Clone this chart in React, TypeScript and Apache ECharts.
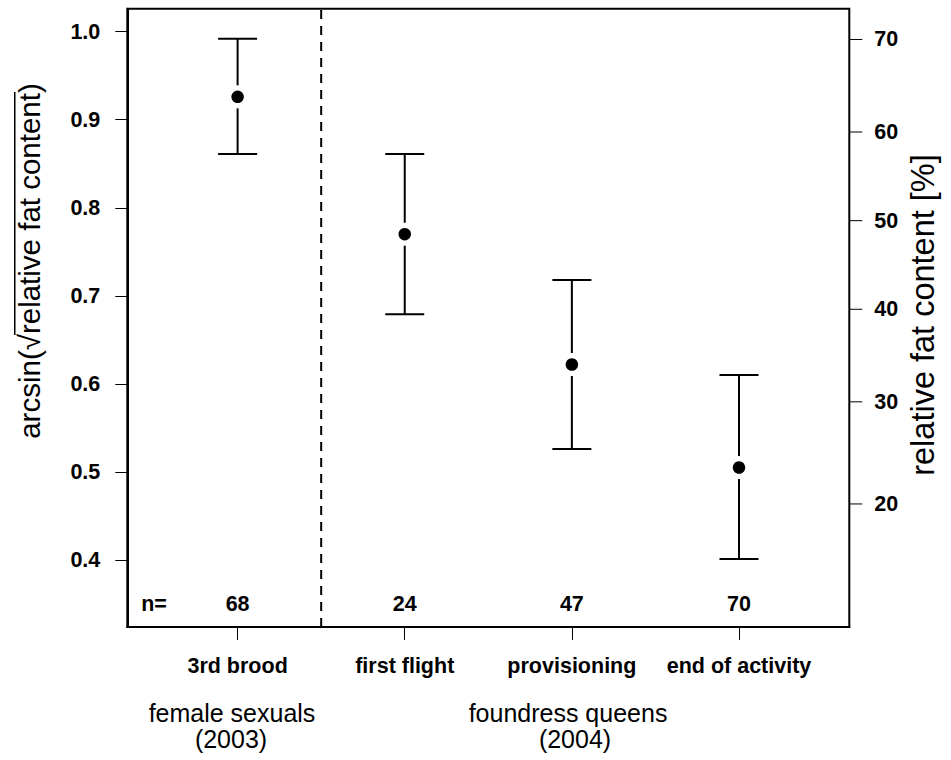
import React, { useEffect, useRef } from "react";
import * as echarts from "echarts";

// ---- data ----
const STAGES = ["3rd brood", "first flight", "provisioning", "end of activity"];
const STAGE_X = [1, 2, 3, 4];
const MEANS = [0.926, 0.77, 0.622, 0.505];
const UPPER = [0.992, 0.861, 0.718, 0.61];
const LOWER = [0.861, 0.679, 0.526, 0.401];
const N_COUNTS = ["68", "24", "47", "70"];
const LEFT_TICKS = [0.4, 0.5, 0.6, 0.7, 0.8, 0.9, 1.0];
const RIGHT_TICKS_PCT = [20, 30, 40, 50, 60, 70];
const Y_MIN = 0.324;
const Y_MAX = 1.026;
const X_MIN = 0.34;
const X_MAX = 4.66;
const DIVIDER_X = 1.5;
const N_ROW_Y = 0.35;
const N_PREFIX_X = 0.5;

const FONT = '"Liberation Sans", Arial, Helvetica, sans-serif';
const LEFT_TITLE_SIZE = 29.5;
const RIGHT_TITLE_SIZE = 32.5;
const GROUP_SIZE = 25;
const BOLD_SIZE = 21.5;

const toArc = (pct: number) => Math.asin(Math.sqrt(pct / 100));

function measure(text: string, size: number, weight = "normal") {
  const c = document.createElement("canvas").getContext("2d");
  if (!c) return text.length * size * 0.5;
  c.font = `${weight} ${size}px ${FONT}`;
  return c.measureText(text).width;
}

export default function App() {
  const ref = useRef<HTMLDivElement>(null);

  useEffect(() => {
    if (!ref.current) return;
    const chart = echarts.init(ref.current, undefined, { renderer: "svg" });

    const errData = STAGE_X.map((x, i) => [x, MEANS[i], UPPER[i], LOWER[i]]);
    const meanData = STAGE_X.map((x, i) => [x, MEANS[i]]);
    const nData: any[] = [[N_PREFIX_X, N_ROW_Y, "n="]].concat(
      STAGE_X.map((x, i) => [x, N_ROW_Y, N_COUNTS[i]])
    );
    const rightTickData = RIGHT_TICKS_PCT.map((p) => [X_MAX, toArc(p), p]);

    // left title with overline for the square root
    const pre = "arcsin(\u221A";
    const inner = "relative fat content";
    const full = pre + inner + ")";
    const W = measure(full, LEFT_TITLE_SIZE);
    const wPre = measure(pre, LEFT_TITLE_SIZE);
    const wInner = measure(pre + inner, LEFT_TITLE_SIZE);
    const ovY = -LEFT_TITLE_SIZE * 0.5;

    const labelStyle = {
      color: "#000",
      fontFamily: FONT,
      fontWeight: "bold",
      fontSize: BOLD_SIZE,
    };

    const option: any = {
      animation: false,
      backgroundColor: "#fff",
      grid: {
        left: 127.3,
        right: 101.7,
        top: 8.8,
        bottom: 133.1,
        show: true,
        borderColor: "#000",
        borderWidth: 2,
        backgroundColor: "transparent",
        outerBoundsMode: "none",
      },
      xAxis: {
        type: "value",
        min: X_MIN,
        max: X_MAX,
        splitLine: { show: false },
        axisLine: { show: true, onZero: false, lineStyle: { color: "#000", width: 2 } },
        axisTick: {
          show: true,
          inside: false,
          customValues: STAGE_X,
          length: 13,
          lineStyle: { color: "#000", width: 1 },
        },
        axisLabel: {
          show: true,
          inside: false,
          customValues: STAGE_X,
          margin: 28,
          formatter: (v: number) => STAGES[STAGE_X.indexOf(v)] ?? "",
          ...labelStyle,
        },
      },
      yAxis: {
        type: "value",
        min: Y_MIN,
        max: Y_MAX,
        position: "left",
        splitLine: { show: false },
        axisLine: { show: true, onZero: false, lineStyle: { color: "#000", width: 2 } },
        axisTick: {
          show: true,
          inside: false,
          customValues: LEFT_TICKS,
          length: 12,
          lineStyle: { color: "#000", width: 1 },
        },
        axisLabel: {
          show: true,
          inside: false,
          customValues: LEFT_TICKS,
          margin: 27,
          formatter: (v: number) => v.toFixed(1),
          ...labelStyle,
        },
      },
      series: [
        {
          type: "line",
          data: [
            [DIVIDER_X, Y_MIN],
            [DIVIDER_X, Y_MAX],
          ],
          symbol: "none",
          lineStyle: { color: "#000", width: 2, type: [9, 7] },
          silent: true,
          z: 1,
        },
        {
          type: "custom",
          data: errData,
          encode: { x: 0, y: 1 },
          silent: true,
          renderItem: (_p: any, api: any) => {
            const x = api.value(0);
            const c = api.coord([x, api.value(1)]);
            const top = api.coord([x, api.value(2)]);
            const bot = api.coord([x, api.value(3)]);
            const cap = 19.5;
            const gap = 11.5;
            const style = { stroke: "#000", lineWidth: 2, fill: null };
            return {
              type: "group",
              children: [
                { type: "line", shape: { x1: c[0], y1: top[1], x2: c[0], y2: c[1] - gap }, style },
                { type: "line", shape: { x1: c[0], y1: c[1] + gap, x2: c[0], y2: bot[1] }, style },
                { type: "line", shape: { x1: c[0] - cap, y1: top[1], x2: c[0] + cap, y2: top[1] }, style },
                { type: "line", shape: { x1: c[0] - cap, y1: bot[1], x2: c[0] + cap, y2: bot[1] }, style },
              ],
            };
          },
          z: 2,
        },
        {
          type: "scatter",
          data: meanData,
          symbol: "circle",
          symbolSize: 12.5,
          itemStyle: { color: "#000", opacity: 1 },
          silent: true,
          z: 3,
        },
        {
          type: "custom",
          data: nData,
          encode: { x: 0, y: 1 },
          silent: true,
          renderItem: (_p: any, api: any) => {
            const c = api.coord([api.value(0), api.value(1)]);
            return {
              type: "text",
              x: c[0],
              y: c[1],
              style: {
                text: String(api.value(2)),
                fill: "#000",
                fontFamily: FONT,
                fontWeight: "bold",
                fontSize: BOLD_SIZE,
                textAlign: "center",
                textVerticalAlign: "middle",
              },
            };
          },
          z: 4,
        },
        {
          // right-hand axis: percent ticks placed at arcsin(sqrt(p)) on the same scale
          type: "custom",
          data: rightTickData,
          encode: { x: 0, y: 1 },
          silent: true,
          clip: false,
          renderItem: (_p: any, api: any) => {
            const c = api.coord([api.value(0), api.value(1)]);
            return {
              type: "group",
              children: [
                {
                  type: "line",
                  shape: { x1: c[0], y1: c[1], x2: c[0] + 13, y2: c[1] },
                  style: { stroke: "#000", lineWidth: 1 },
                },
                {
                  type: "text",
                  x: c[0] + 25,
                  y: c[1],
                  style: {
                    text: String(api.value(2)),
                    fill: "#000",
                    fontFamily: FONT,
                    fontWeight: "bold",
                    fontSize: BOLD_SIZE,
                    textAlign: "left",
                    textVerticalAlign: "middle",
                  },
                },
              ],
            };
          },
          z: 4,
        },
      ],
      graphic: [
        {
          type: "group",
          x: 29.5,
          y: 261,
          rotation: Math.PI / 2,
          children: [
            {
              type: "text",
              x: 0,
              y: 0,
              style: {
                text: full,
                fill: "#000",
                fontFamily: FONT,
                fontSize: LEFT_TITLE_SIZE,
                textAlign: "center",
                textVerticalAlign: "middle",
              },
            },
            {
              type: "line",
              shape: { x1: -W / 2 + wPre - 1, y1: ovY, x2: -W / 2 + wInner + 1, y2: ovY },
              style: { stroke: "#000", lineWidth: 1.5 },
            },
          ],
        },
        {
          type: "text",
          x: 923,
          y: 315,
          rotation: Math.PI / 2,
          style: {
            text: "relative fat content [%]",
            fill: "#000",
            fontFamily: FONT,
            fontSize: RIGHT_TITLE_SIZE,
            textAlign: "center",
            textVerticalAlign: "middle",
          },
        },
        {
          type: "text",
          x: 232,
          y: 713,
          style: { text: "female sexuals", fill: "#000", fontFamily: FONT, fontSize: GROUP_SIZE, textAlign: "center", textVerticalAlign: "middle" },
        },
        {
          type: "text",
          x: 231,
          y: 739,
          style: { text: "(2003)", fill: "#000", fontFamily: FONT, fontSize: GROUP_SIZE, textAlign: "center", textVerticalAlign: "middle" },
        },
        {
          type: "text",
          x: 568,
          y: 713,
          style: { text: "foundress queens", fill: "#000", fontFamily: FONT, fontSize: GROUP_SIZE, textAlign: "center", textVerticalAlign: "middle" },
        },
        {
          type: "text",
          x: 575,
          y: 739,
          style: { text: "(2004)", fill: "#000", fontFamily: FONT, fontSize: GROUP_SIZE, textAlign: "center", textVerticalAlign: "middle" },
        },
      ],
    };

    chart.setOption(option);
    return () => chart.dispose();
  }, []);

  return (
    <div
      ref={ref}
      style={{ position: "fixed", left: 0, top: 0, width: 951, height: 760, background: "#fff" }}
    />
  );
}
